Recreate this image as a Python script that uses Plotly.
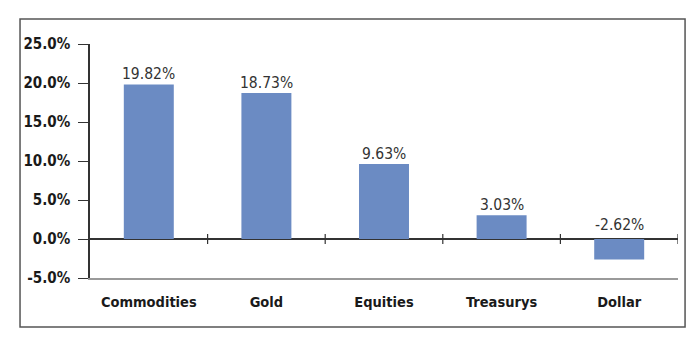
import plotly.graph_objects as go

categories = ["Commodities", "Gold", "Equities", "Treasurys", "Dollar"]
returns_pct = [19.82, 18.73, 9.63, 3.03, -2.62]
label_text = ["19.82%", "18.73%", "9.63%", "3.03%", "-2.62%"]
y_ticks = [-5, 0, 5, 10, 15, 20, 25]
y_tick_labels = ["-5.0%", "0.0%", "5.0%", "10.0%", "15.0%", "20.0%", "25.0%"]

FONT = "Liberation Sans Narrow, DejaVu Sans Condensed, Arial Narrow, sans-serif"
BAR = "#6B8BC3"

fig = go.Figure()
fig.add_trace(go.Bar(
    x=categories, y=returns_pct, marker=dict(color=BAR, line=dict(width=0)),
    hoverinfo="skip", showlegend=False,
))

annotations = []
for c, v, t in zip(categories, returns_pct, label_text):
    annotations.append(dict(
        x=c, y=max(v, 0), xref="x", yref="y", text=t, showarrow=False,
        yanchor="bottom", yshift=-1 if v >= 0 else 3,
        font=dict(family=FONT, size=15.5, color="#333333"),
    ))

shapes = []
for i in range(len(categories)):
    shapes.append(dict(
        type="line", xref="x", yref="y", x0=i + 0.5, x1=i + 0.5, y0=-0.65, y1=0.65,
        line=dict(color="#333333", width=1.2),
    ))
shapes.append(dict(
    type="rect", xref="paper", yref="paper", x0=-0.119, x1=1.012, y0=-0.209, y1=1.107,
    line=dict(color="#555555", width=1.5), fillcolor="rgba(0,0,0,0)", layer="below",
))

fig.update_layout(
    width=700, height=348,
    margin=dict(l=90, r=22, t=44, b=70),
    paper_bgcolor="white", plot_bgcolor="white",
    bargap=0.575,
    font=dict(family=FONT, color="#1a1a1a"),
    annotations=annotations, shapes=shapes,
    xaxis=dict(
        type="category", range=[-0.5, 4.5], showgrid=False, zeroline=False,
        showline=True, linecolor="#9a9a9a", linewidth=1.5, mirror=False,
        ticks="", tickfont=dict(family=FONT, size=14.5, color="#1a1a1a", weight="bold"),
        ticklabelstandoff=10,
    ),
    yaxis=dict(
        range=[-5, 25], tickvals=y_ticks, ticktext=y_tick_labels,
        showgrid=False, zeroline=True, zerolinecolor="#333333", zerolinewidth=1.5,
        showline=True, linecolor="#333333", linewidth=1.5,
        ticks="outside", ticklen=10, tickwidth=1.2, tickcolor="#333333",
        tickfont=dict(family=FONT, size=15, color="#1a1a1a", weight="bold"),
        ticklabelstandoff=5,
    ),
)

fig.write_html("out.html")
